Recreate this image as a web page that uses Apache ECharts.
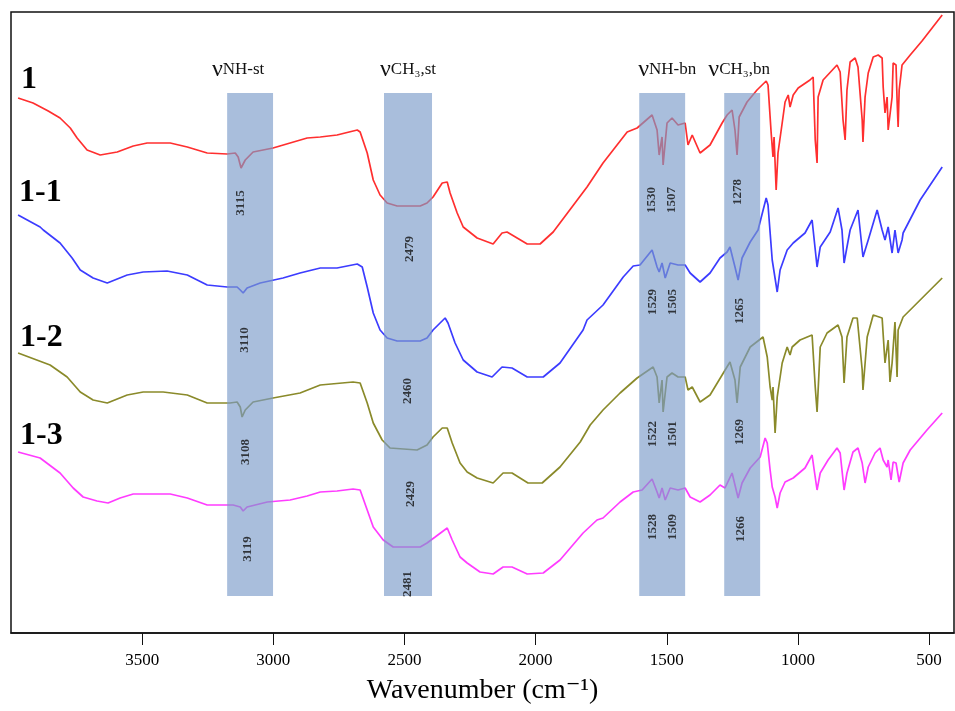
<!DOCTYPE html>
<html>
<head>
<meta charset="utf-8">
<title>FT-IR spectra</title>
<script src="https://cdn.jsdelivr.net/npm/echarts@6/dist/echarts.min.js"></script>
<style>
  html, body { margin: 0; padding: 0; background: #fff; }
  #chart { width: 955px; height: 711px; }
</style>
</head>
<body>
<div id="chart"></div>
<script>
// spectra: [wavenumber cm-1, relative transmittance (offset)]
var spec1 = [
  [3973,535],[3916,530],[3858,522],[3813,515],[3774,505],[3748,495],[3710,483],[3660,478],
  [3595,481],[3534,487],[3481,490],[3393,490],[3328,486],[3252,480],[3176,479],[3145,480],
  [3134,476],[3123,465],[3107,473],[3077,481],[3001,485],[2936,490],[2871,495],[2821,496],
  [2757,498],[2680,503],[2669,501],[2642,480],[2619,453],[2593,438],[2566,430],[2528,427],
  [2440,427],[2414,430],[2391,436],[2356,450],[2337,451],[2326,440],[2299,420],[2276,406],
  [2223,395],[2162,389],[2128,400],[2109,401],[2032,389],[1983,389],[1933,401],[1804,446],
  [1743,470],[1651,501],[1613,505],[1556,518],[1552,516],[1537,503],[1529,478],[1518,496],
  [1514,468],[1499,510],[1480,515],[1457,508],[1430,510],[1419,488],[1403,498],[1373,480],
  [1335,488],[1289,510],[1270,518],[1251,523],[1240,503],[1232,478],[1224,516],[1194,531],
  [1156,543],[1121,552],[1114,548],[1102,500],[1095,476],[1091,496],[1083,443],[1076,480],
  [1060,510],[1049,531],[1037,538],[1030,526],[1018,538],[999,545],[954,553],[942,556],
  [934,493],[927,470],[923,536],[904,553],[851,568],[839,561],[828,513],[820,493],
  [813,543],[801,571],[782,575],[771,566],[755,513],[752,491],[744,536],[732,560],
  [713,576],[694,578],[679,575],[675,546],[668,520],[660,536],[656,503],[649,501],
  [641,536],[637,570],[626,568],[622,533],[618,506],[614,543],[603,568],[572,578],
  [527,592],[450,618]
];
var spec11 = [
  [3973,418],[3889,406],[3877,403],[3813,390],[3767,375],[3736,363],[3687,355],[3633,350],
  [3557,358],[3496,361],[3405,362],[3328,358],[3252,348],[3176,346],[3138,346],[3126,343],
  [3115,340],[3100,345],[3050,350],[2963,355],[2898,360],[2821,365],[2757,365],[2680,369],
  [2661,366],[2642,346],[2619,320],[2593,303],[2566,295],[2528,292],[2440,292],[2414,295],
  [2391,303],[2345,315],[2334,310],[2307,290],[2276,273],[2223,261],[2166,256],[2128,266],
  [2090,265],[2032,256],[1971,256],[1907,270],[1819,303],[1804,313],[1743,328],[1666,356],
  [1628,367],[1602,368],[1556,383],[1552,381],[1537,366],[1529,361],[1518,370],[1506,355],
  [1487,370],[1457,368],[1430,368],[1411,360],[1373,351],[1335,360],[1297,375],[1270,381],
  [1259,386],[1240,366],[1228,353],[1213,375],[1182,391],[1152,403],[1121,435],[1114,428],
  [1098,373],[1079,341],[1068,363],[1041,383],[1018,390],[973,400],[946,413],[927,366],
  [915,386],[877,401],[847,425],[832,403],[824,370],[813,386],[801,403],[771,423],
  [752,376],[732,393],[698,423],[679,403],[668,393],[656,406],[641,380],[630,403],
  [618,380],[603,393],[599,400],[534,433],[450,466]
];
var spec12 = [
  [3973,280],[3851,268],[3786,256],[3736,241],[3687,233],[3633,230],[3557,238],[3496,241],
  [3420,241],[3328,238],[3252,230],[3165,230],[3138,231],[3126,226],[3119,216],[3107,223],
  [3077,231],[3001,235],[2898,240],[2821,248],[2696,251],[2669,250],[2642,230],[2619,210],
  [2585,193],[2555,185],[2452,183],[2414,188],[2391,196],[2356,205],[2337,205],[2318,190],
  [2288,170],[2261,161],[2223,155],[2162,150],[2124,160],[2090,160],[2029,150],[1975,150],
  [1907,166],[1830,191],[1792,208],[1743,223],[1678,240],[1613,255],[1552,266],[1537,256],
  [1529,230],[1518,253],[1514,221],[1499,256],[1480,260],[1457,256],[1430,256],[1419,243],
  [1403,246],[1373,231],[1335,238],[1289,258],[1259,271],[1240,253],[1232,230],[1220,266],
  [1182,286],[1133,296],[1117,276],[1106,246],[1098,233],[1095,246],[1087,200],[1079,236],
  [1060,270],[1041,286],[1030,278],[1022,286],[992,293],[946,298],[934,246],[927,221],
  [915,286],[889,300],[847,308],[832,296],[824,250],[813,296],[790,315],[774,315],
  [755,263],[752,243],[736,296],[713,318],[679,315],[668,270],[656,293],[649,251],
  [641,270],[630,311],[622,256],[618,303],[599,316],[534,333],[450,355]
];
var spec13 = [
  [3973,181],[3889,175],[3813,160],[3763,145],[3725,136],[3672,132],[3630,130],[3584,135],
  [3534,139],[3393,139],[3328,135],[3252,128],[3153,128],[3126,126],[3115,122],[3100,126],
  [3023,131],[2936,133],[2871,137],[2821,141],[2757,142],[2696,144],[2669,143],[2642,123],
  [2619,106],[2581,93],[2543,86],[2440,86],[2414,90],[2383,96],[2337,105],[2318,93],
  [2288,76],[2261,70],[2212,61],[2162,59],[2124,66],[2090,66],[2032,59],[1971,60],
  [1907,73],[1819,100],[1766,113],[1743,115],[1678,131],[1628,141],[1594,143],[1556,154],
  [1552,153],[1537,141],[1529,135],[1518,145],[1506,133],[1487,145],[1457,143],[1430,145],
  [1411,136],[1373,131],[1335,138],[1297,148],[1278,145],[1251,160],[1247,158],[1228,135],
  [1213,150],[1182,165],[1144,176],[1125,195],[1117,190],[1106,163],[1098,146],[1087,136],
  [1079,125],[1068,140],[1049,151],[1018,155],[973,165],[946,178],[938,163],[927,143],
  [915,160],[885,173],[851,185],[839,180],[824,143],[813,160],[790,181],[771,185],
  [755,170],[744,150],[732,166],[706,180],[687,185],[675,173],[660,166],[656,173],
  [645,153],[637,171],[626,170],[614,151],[599,170],[572,183],[508,203],[450,220]
];

var seriesNames = ['1', '1-1', '1-2', '1-3'];
var seriesData = [spec1, spec11, spec12, spec13];
var seriesColors = ['#ff2f2f', '#3c3cff', '#8a8a2a', '#ff3cff'];
var nameOffsets = [[3, -18], [1, -22], [2, -15], [2, -16]];

// shaded bands: [from, to] in cm-1 and their headers
var bandRanges = [[3176, 3001], [2578, 2395], [1605, 1430], [1281, 1144]];
var bandLow = 37, bandHigh = 540;
var bandHeaders = ['{v|ν}{t|NH-st}', '{v|ν}{t|CH₃,st}', '{v|ν}{t|NH-bn}', '{v|ν}{t|CH₃,bn}'];
var headerShift = [[-12, 0], [0, 0], [5, 0], [-3, 0]];

// peak assignments written in the bands
var peakText = ['3115', '3110', '3108', '3119',
                '2479', '2460', '2429', '2481',
                '1530\n1507', '1529\n1505', '1522\n1501', '1528\n1509',
                '1278', '1265', '1269', '1266'];
var peakAt = [[3123,430],[3111,293],[3107,181],[3096,84],
              [2482,384],[2486,242],[2475,139],[2486,49],
              [1518,433],[1514,331],[1514,199],[1514,106],
              [1228,441],[1224,322],[1224,201],[1217,104]];

var xTicks = [3500, 3000, 2500, 2000, 1500, 1000, 500];

var serif = '"Liberation Serif", "Times New Roman", "DejaVu Serif", serif';

var myChart = echarts.init(document.getElementById('chart'));

var series = seriesData.map(function (d, i) {
    return {
        name: seriesNames[i],
        type: 'line',
        data: d,
        showSymbol: false,
        symbol: 'none',
        z: 2,
        lineStyle: { color: seriesColors[i], width: 1.7 },
        markPoint: {
            symbol: 'circle',
            symbolSize: 0,
            data: [{
                coord: d[0],
                label: {
                    show: true,
                    formatter: seriesNames[i],
                    position: 'inside',
                    align: 'left',
                    verticalAlign: 'middle',
                    offset: nameOffsets[i],
                    fontFamily: serif,
                    fontWeight: 'bold',
                    fontSize: 32,
                    color: '#000'
                }
            }]
        }
    };
});

series.push({
    name: 'bands',
    type: 'line',
    data: [],
    z: 10,
    markArea: {
        silent: true,
        z: 10,
        itemStyle: { color: 'rgba(123,155,201,0.65)' },
        label: {
            show: true,
            position: 'top',
            distance: 11,
            rich: {
                v: { fontFamily: serif, fontSize: 24, color: '#111' },
                t: { fontFamily: serif, fontSize: 17, color: '#111' }
            }
        },
        data: bandRanges.map(function (b, i) {
            return [
                { xAxis: b[0], yAxis: bandHigh,
                  label: { formatter: bandHeaders[i], offset: headerShift[i] } },
                { xAxis: b[1], yAxis: bandLow }
            ];
        })
    }
});

series.push({
    name: 'peaks',
    type: 'scatter',
    z: 20,
    symbolSize: 1,
    itemStyle: { color: 'rgba(0,0,0,0)' },
    silent: true,
    data: peakAt.map(function (p, i) { return [p[0], p[1], peakText[i]]; }),
    label: {
        show: true,
        position: 'inside',
        rotate: 90,
        formatter: function (p) { return p.data[2]; },
        fontFamily: serif,
        fontWeight: 'bold',
        fontSize: 13,
        lineHeight: 20,
        color: '#111'
    }
});

var option = {
    animation: false,
    backgroundColor: '#fff',
    grid: {
        left: 11, right: 1, top: 12, bottom: 78,
        outerBoundsMode: 'none',
        show: true,
        borderColor: '#111',
        borderWidth: 1.5
    },
    xAxis: {
        type: 'value',
        min: 405,
        max: 4000,
        inverse: true,
        name: 'Wavenumber (cm⁻¹)',
        nameLocation: 'middle',
        nameGap: 44,
        nameTextStyle: { fontFamily: serif, fontSize: 28, color: '#000' },
        axisLine: { show: true, lineStyle: { color: '#111', width: 1.5 } },
        axisTick: { show: true, length: 12, customValues: xTicks, lineStyle: { color: '#111' } },
        axisLabel: {
            customValues: xTicks,
            formatter: function (v) { return String(v); },
            fontFamily: serif,
            fontSize: 17,
            color: '#000',
            margin: 19
        },
        splitLine: { show: false }
    },
    yAxis: {
        type: 'value',
        min: 0,
        max: 621,
        show: false
    },
    series: series
};

myChart.setOption(option);
</script>
</body>
</html>
